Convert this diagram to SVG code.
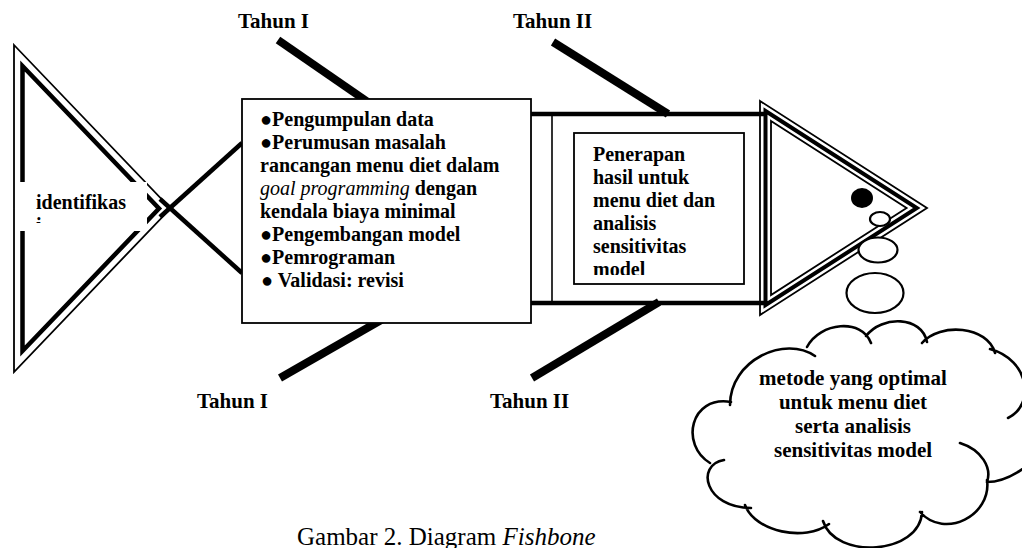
<svg xmlns="http://www.w3.org/2000/svg" width="1022" height="548" viewBox="0 0 1022 548">
<style>
.t{font-family:"Liberation Serif","Times New Roman",serif;font-weight:bold;font-size:20px;fill:#000}
.lbl{font-family:"Liberation Serif","Times New Roman",serif;font-weight:bold;font-size:21px;fill:#000}
.cap{font-family:"Liberation Serif","Times New Roman",serif;font-size:25px;fill:#000}
.bone{stroke:#000;stroke-width:8;fill:none}
.thin{stroke:#000;stroke-width:1.8;fill:none}
.thick{stroke:#000;stroke-width:4.5;fill:none}
.box{fill:#fff;stroke:#000;stroke-width:1.8}
.cl{fill:none;stroke:#000;stroke-width:2.6;stroke-linecap:round}
.bub{fill:#fff;stroke:#000;stroke-width:2.2}
</style>
<defs>
<clipPath id="clipId"><rect x="18" y="182" width="130" height="41"/></clipPath>
<clipPath id="clipPen"><rect x="575" y="134" width="169" height="141"/></clipPath>
</defs>
<rect width="1022" height="548" fill="#fff"/>
<g id="connectors">
<line class="bone" x1="278" y1="40" x2="420" y2="138"/>
<line class="bone" x1="553" y1="42" x2="668" y2="114"/>
<line class="bone" x1="280" y1="378" x2="430" y2="292"/>
<line class="bone" x1="532" y1="378" x2="659" y2="302"/>
<line x1="531" y1="114" x2="766" y2="114" stroke="#000" stroke-width="4.5"/>
<line x1="531" y1="303" x2="766" y2="303" stroke="#000" stroke-width="4.5"/>
<line x1="552" y1="114" x2="552" y2="303" stroke="#000" stroke-width="1.6"/>
<line x1="160" y1="217" x2="242" y2="143" stroke="#000" stroke-width="4.5"/>
<line x1="160" y1="199" x2="242" y2="273" stroke="#000" stroke-width="4.5"/>
</g>
<g id="tail">
<polygon class="thin" points="14,45 170.5,208.5 14,372"/>
<polygon class="thick" points="22.5,66 159,208.5 22.5,351"/>
</g>
<g id="node-identifikasi">
<rect x="18" y="182" width="129" height="49" fill="#fff"/>
<text class="t" x="36" y="209">identifikas</text>
<text class="t" x="36" y="232" clip-path="url(#clipId)">i</text>
</g>
<g id="node-tahun1">
<rect class="box" x="242" y="99" width="289" height="224"/>
<text class="t" x="260" y="126">●Pengumpulan data</text>
<text class="t" x="260" y="149">●Perumusan masalah</text>
<text class="t" x="260" y="172">rancangan menu diet dalam</text>
<text class="t" x="260" y="195"><tspan font-style="italic" font-weight="normal">goal programming</tspan> dengan</text>
<text class="t" x="260" y="218">kendala biaya minimal</text>
<text class="t" x="260" y="241">●Pengembangan model</text>
<text class="t" x="260" y="264">●Pemrograman</text>
<text class="t" x="261" y="287">● Validasi: revisi</text>
</g>
<g id="node-tahun2">
<rect class="box" x="574" y="133" width="170" height="151"/>
<g clip-path="url(#clipPen)">
<text class="t" x="593" y="161">Penerapan</text>
<text class="t" x="593" y="184">hasil untuk</text>
<text class="t" x="593" y="207">menu diet dan</text>
<text class="t" x="593" y="230">analisis</text>
<text class="t" x="593" y="253">sensitivitas</text>
<text class="t" x="593" y="276">model</text>
</g>
</g>
<g id="head">
<polygon class="thin" points="760,101 927,208 760,315" fill="#fff"/>
<polygon points="765.5,111 916.8,208 765.5,305" fill="none" stroke="#000" stroke-width="4"/>
<polygon class="thin" points="771,121 906.6,208 771,295"/>
<ellipse cx="862" cy="198" rx="11" ry="10" fill="#000"/>
<ellipse class="bub" cx="880" cy="219" rx="10" ry="7"/>
<ellipse class="bub" cx="878" cy="250" rx="19.5" ry="12.5"/>
<ellipse class="bub" cx="875" cy="293" rx="28.5" ry="20"/>
</g>
<g id="node-result">
<path class="cl" d="M730,405 C730,360 785,335 815,356 M807,347 C820,322 862,318 871,343 M866,336 C882,315 922,316 927,342 M922,343 C940,322 988,326 995,353 M990,349 C1030,360 1035,405 1008,418 M960,443 C982,450 992,468 987,482 M987,482 C1000,482 1015,475 1028,465 M987,480 C992,515 945,540 920,512 M922,512 C920,555 835,560 823,521 M829,524 C805,542 755,532 745,505 M751,508 C705,508 695,465 724,460 M710,463 C680,445 690,395 731,402"/>
<text class="lbl" x="853" y="385" text-anchor="middle">metode yang optimal</text>
<text class="lbl" x="853" y="409" text-anchor="middle">untuk menu diet</text>
<text class="lbl" x="853" y="433" text-anchor="middle">serta analisis</text>
<text class="lbl" x="853" y="457" text-anchor="middle">sensitivitas model</text>
</g>
<g id="labels">
<text class="lbl" x="238" y="28">Tahun I</text>
<text class="lbl" x="513" y="28">Tahun II</text>
<text class="lbl" x="197" y="408">Tahun I</text>
<text class="lbl" x="490" y="408">Tahun II</text>
</g>
<text class="cap" x="297" y="545">Gambar 2. Diagram <tspan font-style="italic">Fishbone</tspan></text>
</svg>
